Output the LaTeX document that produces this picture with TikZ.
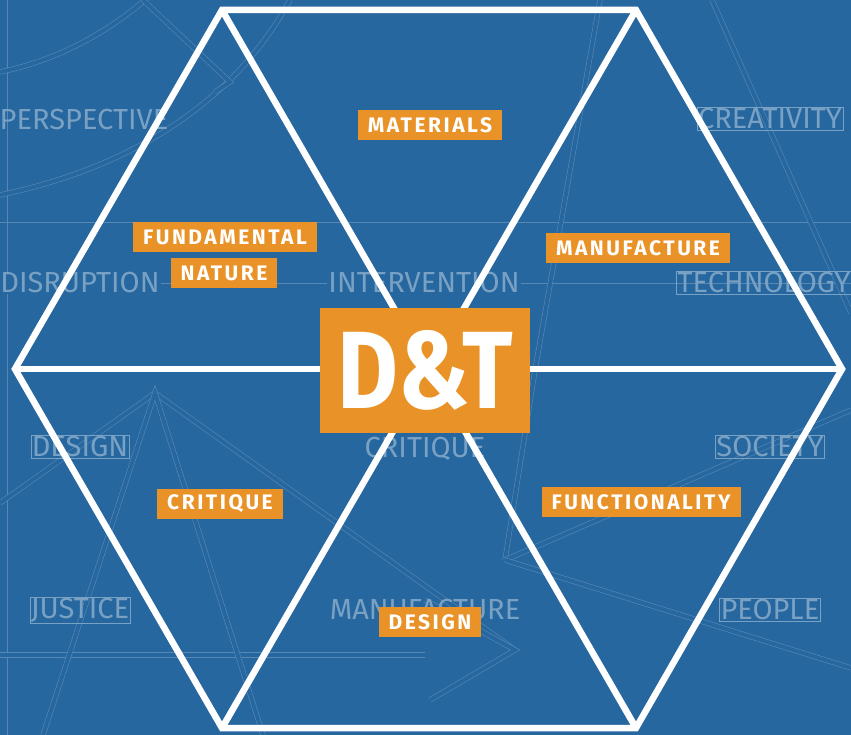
\documentclass[tikz,border=0pt]{standalone}
\usepackage{fontspec}
\setmainfont{Fira Sans}
\newfontfamily\tagfont{Fira Sans}[LetterSpace=12]
\newfontfamily\wordfont{Fira Sans}
\newfontfamily\dtfont{Fira Sans}[FakeStretch=0.85]
\definecolor{bpblue}{RGB}{39,103,159}
\definecolor{dtorange}{RGB}{233,146,40}
\colorlet{faint}{bpblue!62!white}
\colorlet{faintline}{bpblue!78!white}
\begin{document}
\begin{tikzpicture}[x=1pt,y=-1pt,line join=miter,
  hexline/.style={draw=white,line width=6.5pt},
  tag/.style={fill=dtorange,text=white,font=\tagfont\bfseries\fontsize{21}{21}\selectfont,
    inner xsep=10pt,inner ysep=0pt,minimum height=30pt},
  word/.style={text=faint,font=\wordfont\fontsize{29}{29}\selectfont,inner sep=1pt},
  boxword/.style={word,draw=faint,line width=0.6pt},
  guide/.style={draw=faintline,line width=0.6pt},
  rail/.style={draw=faintline,line width=0.6pt,double=bpblue,double distance=4pt}]
%%
  % Background
  \fill[bpblue] (0,0) rectangle (851,735);
  \useasboundingbox (0,0) rectangle (851,735);
  % Guide lines
  \draw[guide] (7,0) -- (7,735);
  \draw[guide] (0,222) -- (851,222);
  \draw[guide] (0,283) -- (851,283);
  \draw[rail] (0,655) -- (425,655);
  \draw[rail] (0,72) .. controls (60,60) and (110,30) .. (145,0);
  \draw[rail] (0,195) .. controls (120,170) and (230,110) .. (290,0);
  \draw[rail] (143,0) -- (230,82) -- (215,92);
  \draw[rail] (712,0) -- (851,313);
  \draw[rail] (600,0) -- (535,370) -- (505,560);
  \draw[rail] (505,560) -- (851,410);
  \draw[rail] (505,560) -- (851,668);
  \coordinate (apex) at (155,393);
  \draw[rail] (0,503) -- (apex) -- (515,650);
  \draw[rail] (43,735) -- (apex) -- (263,735);
  \draw[rail] (425,600) -- (515,650) -- (430,700);
  % Background words
  \node[word] (wPer) at (84,120) {PERSPECTIVE};
  \node[boxword] (wCre) at (770,119) {CREATIVITY};
  \node[word,fill=bpblue] (wDis) at (80,283) {DISRUPTION};
  \node[word,fill=bpblue] (wInt) at (424,283) {INTERVENTION};
  \node[boxword] (wTec) at (764,283) {TECHNOLOGY};
  \node[boxword] (wDes) at (80,447) {DESIGN};
  \node[word] (wCri) at (425,449) {CRITIQUE};
  \node[boxword] (wSoc) at (770,447) {SOCIETY};
  \node[boxword] (wJus) at (80,610) {JUSTICE};
  \node[word] (wMan) at (425,610) {MANUFACTURE};
  \node[boxword] (wPeo) at (770,610) {PEOPLE};
  % Hexagon
  \coordinate (tl) at (222,10);
  \coordinate (tr) at (636,10);
  \coordinate (r) at (842,369);
  \coordinate (br) at (636,728);
  \coordinate (bl) at (222,728);
  \coordinate (l) at (15,369);
  \draw[hexline] (tl) -- (tr) -- (r) -- (br) -- (bl) -- (l) -- cycle;
  \draw[hexline] (tl) -- (br);
  \draw[hexline] (tr) -- (bl);
  \draw[hexline] (l) -- (r);
  % Node: D&T
  \node[fill=dtorange,text=white,minimum width=210pt,minimum height=125pt,
    font=\dtfont\bfseries\fontsize{110}{110}\selectfont] (dt) at (425,370) {D\&T};
  % Node: labels
  \node[tag] (materials) at (430,125) {MATERIALS};
  \node[tag] (fundamental) at (225,237) {FUNDAMENTAL};
  \node[tag] (nature) at (224,273) {NATURE};
  \node[tag] (manufacture) at (638,248) {MANUFACTURE};
  \node[tag] (critique) at (220,504) {CRITIQUE};
  \node[tag] (functionality) at (641,502) {FUNCTIONALITY};
  \node[tag] (design) at (430,622) {DESIGN};
%
\end{tikzpicture}
\end{document}
